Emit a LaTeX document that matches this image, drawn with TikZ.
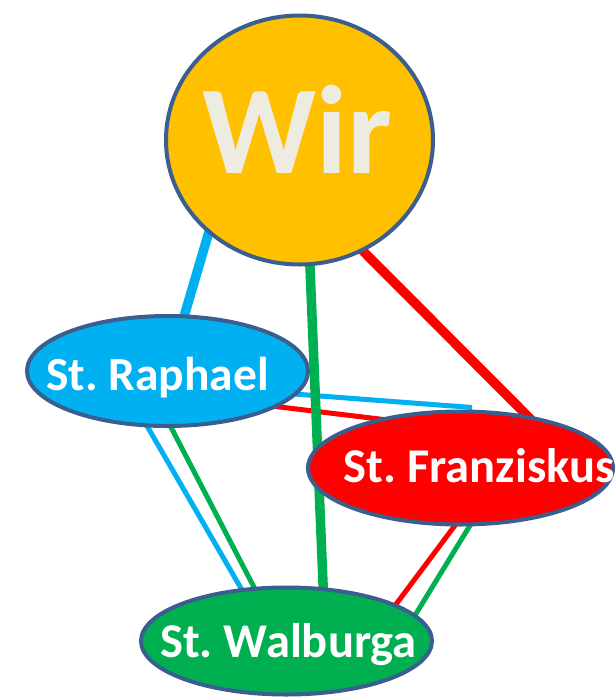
\documentclass[tikz,border=0pt]{standalone}
\usepackage{fontspec}
\setmainfont{Carlito}
\usetikzlibrary{shapes.geometric}
\definecolor{wiryellow}{HTML}{FFC000}
\definecolor{sblue}{HTML}{00B0F0}
\definecolor{sred}{HTML}{FF0000}
\definecolor{sgreen}{HTML}{00B050}
\definecolor{rim}{HTML}{3A5F8E}
\definecolor{wirtext}{HTML}{EEECE1}
\tikzset{
  blob/.style={ellipse, draw=rim, line width=4pt, inner sep=0pt},
  lbl/.style={anchor=base, text=white, font=\frenchspacing\bfseries\fontsize{48.5}{48.5}\selectfont, inner sep=0pt},
  thick link/.style={line width=9.5pt},
  thin link/.style={line width=5pt},
}
\begin{document}
\begin{tikzpicture}[x=1pt,y=-1pt]
\useasboundingbox (0,0) rectangle (616,697);
% node positions (drawn later, on top)
\path (299.5,140) coordinate (cC)
      (167.5,371) coordinate (cR)
      (460.5,468) coordinate (cF)
      (286.5,641) coordinate (cW);
% thin connectors
\draw[thin link, sblue] ([shift={(122.5,22.7)}]cR) -- ([shift={(11.5,-60.5)}]cF);
\draw[thin link, sred]  ([shift={(102.5,34.8)}]cR) -- ([shift={(-60.5,-46.5)}]cF);
\draw[thin link, sblue] ([shift={(-24.5,48)}]cR) -- ([shift={(-44.5,-51)}]cW);
\draw[thin link, sgreen]([shift={(-0.5,48.5)}]cR) -- ([shift={(-30,-49)}]cW);
\draw[thin link, sred]  ([shift={(-4.5,56)}]cF) -- ([shift={(107.5,-34)}]cW);
\draw[thin link, sgreen]([shift={(12.5,52.5)}]cF) -- ([shift={(127.5,-24)}]cW);
% thick connectors
\draw[thick link, sblue] ([shift={(-90,90)}]cC) -- ([shift={(15.5,-51)}]cR);
\draw[thick link, sgreen]([shift={(10,115)}]cC) -- ([shift={(37,-46)}]cW);
\draw[thick link, sred]  ([shift={(57.5,105)}]cC) -- ([shift={(71,-48)}]cF);
% ellipses
\node[blob, fill=wiryellow, minimum width=267pt, minimum height=249pt] (wir) at (cC) {};
\node[blob, fill=sblue, minimum width=281pt, minimum height=110pt] (raph) at (cR) {};
\node[blob, fill=sred, minimum width=305pt, minimum height=113pt] (fran) at (cF) {};
\node[blob, fill=sgreen, minimum width=291pt, minimum height=107pt] (walb) at (cW) {};
% labels
\node[anchor=base, text=wirtext, font=\bfseries\fontsize{126}{126}\selectfont, inner sep=0pt] (wirtxt) at (297.5,173) {Wir};
\node[lbl, font=\frenchspacing\bfseries\fontsize{47.5}{47.5}\selectfont] (raphtxt) at (157.5,390.5) {St. Raphael};
\node[lbl] (frantxt) at (479,482) {St. Franziskus};
\node[lbl] (walbtxt) at (288.5,657) {St. Walburga};
\end{tikzpicture}
\end{document}
